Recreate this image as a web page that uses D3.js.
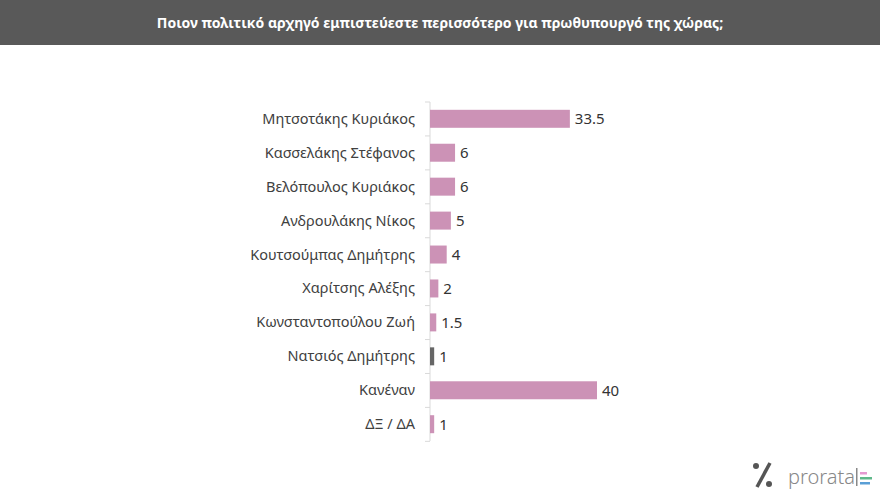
<!DOCTYPE html>
<html><head><meta charset="utf-8">
<script src="https://cdn.jsdelivr.net/npm/d3@7"></script>
<style>body{margin:0;background:#fff;font-family:"Noto Sans",sans-serif}</style>
</head><body>
<svg id="c" width="880" height="495"></svg>
<script>
var names = ["Μητσοτάκης Κυριάκος","Κασσελάκης Στέφανος","Βελόπουλος Κυριάκος","Ανδρουλάκης Νίκος","Κουτσούμπας Δημήτρης","Χαρίτσης Αλέξης","Κωνσταντοπούλου Ζωή","Νατσιός Δημήτρης","Κανέναν","ΔΞ / ΔΑ"];
var values = [33.5,6,6,5,4,2,1.5,1,40,1];
var labels = ["33.5","6","6","5","4","2","1.5","1","40","1"];
var title = "Ποιον πολιτικό αρχηγό εμπιστεύεστε περισσότερο για πρωθυπουργό της χώρας;";

var svg = d3.select("#c");
svg.append("rect").attr("width",880).attr("height",45).attr("fill","#595959");
svg.append("text").attr("x",440).attr("y",28).attr("text-anchor","middle")
   .attr("fill","#fff").attr("font-size",14).attr("font-weight","bold").text(title);

var x = d3.scaleLinear().domain([0,40]).range([430,597]);
var y = d3.scaleBand().domain(names).range([102,441]).paddingInner(0.47).paddingOuter(0.23);

// axis with ticks between categories
svg.append("line").attr("x1",430).attr("x2",430).attr("y1",102).attr("y2",441).attr("stroke","#d9d9d9");
var step = y.step();
d3.range(names.length+1).forEach(function(i){
  var yy = 102 + i*step;
  svg.append("line").attr("x1",425).attr("x2",430).attr("y1",yy).attr("y2",yy).attr("stroke","#d9d9d9");
});

svg.selectAll("rect.bar").data(values).enter().append("rect").attr("class","bar")
  .attr("x",x(0)).attr("y",(d,i)=>y(names[i])).attr("height",y.bandwidth())
  .attr("width",d=>x(d)-x(0))
  .attr("fill",(d,i)=>names[i]=="Νατσιός Δημήτρης"?"#666666":"#cc92b6");

svg.selectAll("text.val").data(values).enter().append("text")
  .attr("x",d=>x(d)+5).attr("y",(d,i)=>y(names[i])+y.bandwidth()/2+5.5)
  .attr("font-size",15).attr("fill","#333").text((d,i)=>labels[i]);

svg.selectAll("text.cat").data(names).enter().append("text")
  .attr("x",415).attr("y",d=>y(d)+y.bandwidth()/2+5).attr("text-anchor","end")
  .attr("font-size",14.5).attr("fill","#404040").text(d=>d);

// logo
var g = svg.append("g");
g.append("circle").attr("cx",756).attr("cy",466).attr("r",3).attr("fill","#555");
g.append("circle").attr("cx",769).attr("cy",484).attr("r",3).attr("fill","#555");
g.append("line").attr("x1",770).attr("y1",463).attr("x2",757).attr("y2",487).attr("stroke","#555").attr("stroke-width",3.5);
g.append("text").attr("x",788).attr("y",484).attr("font-size",20).attr("fill","#888").attr("font-weight",300).text("prorata");
g.append("rect").attr("x",856).attr("y",468).attr("width",1.5).attr("height",18).attr("fill","#888");
g.append("rect").attr("x",860).attr("y",472).attr("width",7).attr("height",2.5).attr("fill","#e59ad1");
g.append("rect").attr("x",860).attr("y",477).attr("width",12).attr("height",2.5).attr("fill","#5fb88a");
g.append("rect").attr("x",860).attr("y",482).attr("width",10).attr("height",2.5).attr("fill","#5a9fd6");
</script>
</body></html>
